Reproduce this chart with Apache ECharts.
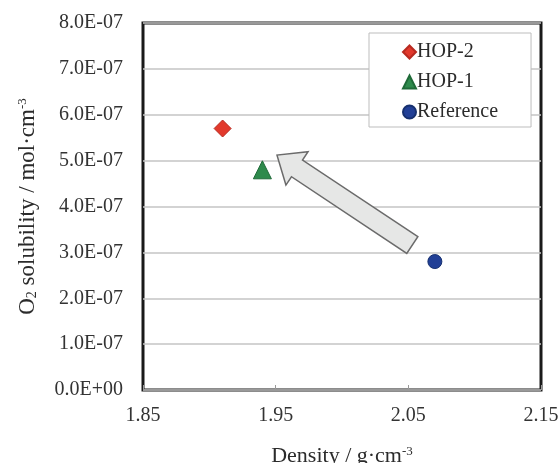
<!DOCTYPE html>
<html>
<head>
<meta charset="utf-8">
<script src="https://cdn.jsdelivr.net/npm/echarts@6/dist/echarts.min.js"></script>
<style>
  html, body { margin: 0; padding: 0; background: #fff; }
  #chart { width: 560px; height: 463px; }
</style>
</head>
<body>
<div id="chart"></div>
<script>
// density (g/cm3) and O2 solubility (mol/cm3)
const seriesNames = ['HOP-2', 'HOP-1', 'Reference']
const densities = [1.91, 1.94, 2.07]
const solubilities = [5.7e-7, 4.8e-7, 2.8e-7]
const xTicks = [1.85, 1.95, 2.05, 2.15]
// arrow annotation: tail -> tip, in data units
const arrowLine = [[2.053, 3.16e-7, 1.951, 5.12e-7]]

const serif = '"Liberation Serif", "Times New Roman", serif'

const chart = echarts.init(document.getElementById('chart'))

function renderArrow(params, api) {
  const t = api.coord([api.value(0), api.value(1)])
  const p = api.coord([api.value(2), api.value(3)])
  const dx = p[0] - t[0], dy = p[1] - t[1]
  const len = Math.sqrt(dx * dx + dy * dy)
  const ux = dx / len, uy = dy / len
  const nx = -uy, ny = ux
  const w = 10, hw = 20, hl = 24
  const h = [p[0] - ux * hl, p[1] - uy * hl]
  const pts = [
    [t[0] + nx * w, t[1] + ny * w],
    [h[0] + nx * w, h[1] + ny * w],
    [h[0] + nx * hw, h[1] + ny * hw],
    p,
    [h[0] - nx * hw, h[1] - ny * hw],
    [h[0] - nx * w, h[1] - ny * w],
    [t[0] - nx * w, t[1] - ny * w]
  ]
  return {
    type: 'polygon',
    shape: { points: pts },
    style: { fill: '#e6e7e6', stroke: '#6b6b6b', lineWidth: 1.5 }
  }
}

const markers = [
  { symbol: 'diamond', symbolSize: 17, color: '#e2392c', border: '#b82a20' },
  { symbol: 'triangle', symbolSize: 18, color: '#2e8a4c', border: '#1f6a38' },
  { symbol: 'circle', symbolSize: 14, color: '#213f96', border: '#16306f' }
]

const option = {
  backgroundColor: '#fff',
  animation: false,
  grid: {
    left: 143, right: 19, top: 23, bottom: 73,
    outerBoundsMode: 'none',
    containLabel: false,
    show: true, borderColor: '#1a1a1a', borderWidth: 3, backgroundColor: '#fff'
  },
  legend: {
    orient: 'vertical',
    left: 369, top: 33,
    padding: [9, 33, 5, 33],
    itemGap: 10,
    itemWidth: 13, itemHeight: 13,
    borderColor: '#bdbdbd', borderWidth: 1,
    backgroundColor: '#fff',
    textStyle: { fontFamily: serif, fontSize: 20, color: '#2b2b2b', padding: [0, 0, 0, -4] },
    data: seriesNames
  },
  xAxis: {
    type: 'value',
    min: 1.85, max: 2.15,
    name: 'Density / g·cm{sup|-3}',
    nameLocation: 'middle',
    nameGap: 55,
    nameTextStyle: {
      fontFamily: serif, fontSize: 22, color: '#2b2b2b',
      rich: { sup: { fontFamily: serif, fontSize: 13, verticalAlign: 'top', color: '#2b2b2b' } }
    },
    axisLine: { show: false },
    axisTick: { show: true, inside: true, length: 5, customValues: xTicks, lineStyle: { color: '#999', width: 1 } },
    axisLabel: {
      customValues: xTicks,
      margin: 16,
      fontFamily: serif, fontSize: 20, color: '#333',
      formatter: v => v.toFixed(2)
    },
    splitLine: { show: false }
  },
  yAxis: {
    type: 'value',
    min: 0, max: 8e-7, interval: 1e-7,
    name: 'O{sub|2} solubility / mol·cm{sup|-3}',
    nameLocation: 'middle',
    nameGap: 104,
    nameTextStyle: {
      fontFamily: serif, fontSize: 23, color: '#2b2b2b',
      rich: {
        sub: { fontFamily: serif, fontSize: 14, verticalAlign: 'bottom', color: '#2b2b2b' },
        sup: { fontFamily: serif, fontSize: 13, verticalAlign: 'top', color: '#2b2b2b' }
      }
    },
    axisLine: { show: false },
    axisTick: { show: false },
    axisLabel: {
      margin: 20,
      fontFamily: serif, fontSize: 20, color: '#333',
      formatter: v => v === 0 ? '0.0E+00' : (v / 1e-7).toFixed(1) + 'E-07'
    },
    splitLine: { show: true, lineStyle: { color: '#c4c4c4', width: 1.5 } }
  },
  series: [
    {
      type: 'custom',
      name: 'arrow',
      renderItem: renderArrow,
      data: arrowLine,
      z: 1,
      silent: true
    }
  ].concat(seriesNames.map((name, i) => ({
    type: 'scatter',
    name: name,
    symbol: markers[i].symbol,
    symbolSize: markers[i].symbolSize,
    itemStyle: { color: markers[i].color, borderColor: markers[i].border, borderWidth: 1, opacity: 1 },
    data: [[densities[i], solubilities[i]]],
    z: 3
  })))
}

chart.setOption(option)
</script>
</body>
</html>
